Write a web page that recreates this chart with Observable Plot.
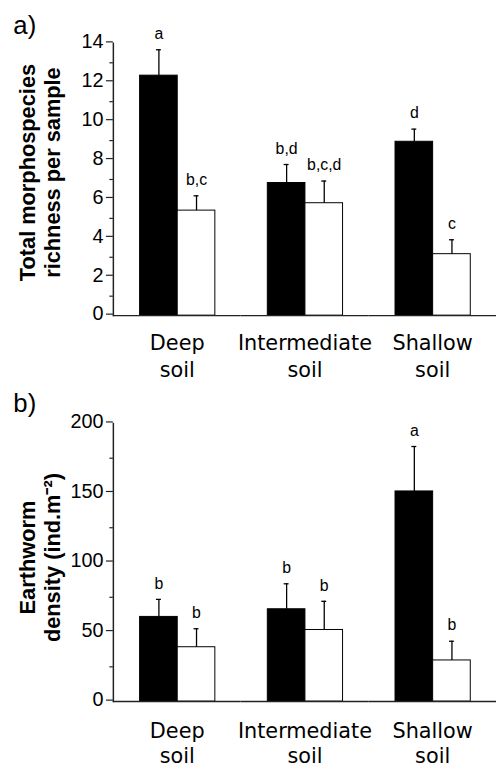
<!DOCTYPE html>
<html>
<head>
<meta charset="utf-8">
<script src="https://cdn.jsdelivr.net/npm/d3@7"></script>
<script src="https://cdn.jsdelivr.net/npm/@observablehq/plot@0.6"></script>
<style>
  html, body { margin: 0; padding: 0; background: #fff; overflow: hidden; }
  #wrap { width: 497px; overflow: hidden; }
  #wrap svg { display: block; }
</style>
</head>
<body>
<div id="wrap"></div>
<script>
// ---- data ----
const soils = ["Deep soil", "Intermediate soil", "Shallow soil"];
const soilLabels = ["Deep\nsoil", "Intermediate\nsoil", "Shallow\nsoil"];
const treatments = ["T1", "T2"];
const treatmentFills = ["black", "white"];

// panel a) total morphospecies richness per sample
const richnessT1 = [12.34, 6.82, 8.94];
const richnessT2 = [5.40, 5.78, 3.16];
const richnessErrT1 = [1.33, 0.95, 0.65];
const richnessErrT2 = [0.76, 1.14, 0.74];
const richnessLettersT1 = ["a", "b,d", "d"];
const richnessLettersT2 = ["b,c", "b,c,d", "c"];
const richnessTicks = [0, 2, 4, 6, 8, 10, 12, 14];
const richnessMinor = [1, 3, 5, 7, 9, 11, 13];

// panel b) earthworm density
const densityT1 = [60.9, 66.4, 151.1];
const densityT2 = [39.1, 51.5, 29.6];
const densityErrT1 = [12.6, 18.3, 32.3];
const densityErrT2 = [13.3, 20.6, 13.8];
const densityLettersT1 = ["b", "b", "a"];
const densityLettersT2 = ["b", "b", "b"];
const densityTicks = [0, 50, 100, 150, 200];
const densityMinor = [25, 75, 125, 175];

function rows(m1, m2, e1, e2, l1, l2) {
  const out = [];
  soils.forEach((s, i) => {
    out.push({soil: s, trt: treatments[0], mean: m1[i], top: m1[i] + e1[i], letter: l1[i]});
    out.push({soil: s, trt: treatments[1], mean: m2[i], top: m2[i] + e2[i], letter: l2[i]});
  });
  return out;
}

function panel(o) {
  const data = o.data;
  return Plot.plot({
    width: 502,
    height: o.height,
    marginLeft: 113,
    marginRight: 0,
    marginTop: o.marginTop,
    marginBottom: o.marginBottom,
    style: {background: "white", color: "black", overflow: "visible"},
    fx: {domain: soils, padding: 0},
    x: {domain: treatments, paddingInner: 0, paddingOuter: 0.66, axis: null},
    y: {domain: o.yDomain},
    color: {domain: treatments, range: treatmentFills},
    marks: [
      Plot.barY(data, {fx: "soil", x: "trt", y: "mean", fill: "trt", stroke: "black", strokeWidth: 1}),
      Plot.ruleX(data, {fx: "soil", x: "trt", y1: "mean", y2: "top", stroke: "black", strokeWidth: 1.3}),
      Plot.tickY(data, {fx: "soil", x: "trt", y: "top", stroke: "black", strokeWidth: 1.3, insetLeft: 16.5, insetRight: 16.5}),
      Plot.text(data, {fx: "soil", x: "trt", y: "top", text: "letter", dy: -16, lineAnchor: "middle",
        fontSize: 16, fontFamily: "Liberation Sans, Arial, sans-serif", fill: "black"}),
      Plot.ruleY([0], {stroke: "#222", strokeWidth: 1.5}),
      Plot.frame({anchor: "left", facet: "super", stroke: "#222", strokeWidth: 1.5}),
      Plot.axisY({ticks: o.ticks, tickSize: 7, tickPadding: 3, fontSize: 20, dy: -1.5,
        fontFamily: "Liberation Sans, Arial, sans-serif", label: null, stroke: "#222", strokeWidth: 1.2}),
      Plot.axisY({ticks: o.minor, tickSize: 3.5, tickFormat: () => "", label: null, stroke: "#222", strokeWidth: 1.2}),
      Plot.axisFx({anchor: "bottom", tickSize: 0, tickPadding: o.fxPad, label: null,
        tickFormat: (d) => soilLabels[soils.indexOf(d)],
        fontSize: 21, fontFamily: "DejaVu Sans, sans-serif", lineHeight: o.fxLine}),
      Plot.text([o.title], {frameAnchor: "left", facetAnchor: "left", rotate: -90, dx: -74.5, dy: o.titleDy,
        lineAnchor: "middle", textAnchor: "middle", lineHeight: 25 / 22,
        fontSize: 22, fontWeight: "bold", fontFamily: "Liberation Sans, Arial, sans-serif", fill: "black"}),
      Plot.text([o.label], {frameAnchor: "top-left", facetAnchor: "left", dx: -101, dy: o.labelDy,
        textAnchor: "start", lineAnchor: "middle",
        fontSize: 26, fontFamily: "Liberation Sans, Arial, sans-serif", fill: "black"})
    ]
  });
}

const wrap = document.getElementById("wrap");
wrap.appendChild(panel({
  data: rows(richnessT1, richnessT2, richnessErrT1, richnessErrT2, richnessLettersT1, richnessLettersT2),
  height: 390, marginTop: 43.3, marginBottom: 71.7, yDomain: [0, 14],
  ticks: richnessTicks, minor: richnessMinor, fxPad: 16, fxLine: 1.28,
  title: "Total morphospecies\nrichness per sample", titleDy: -7,
  label: "a)", labelDy: -18
}));
wrap.appendChild(panel({
  data: rows(densityT1, densityT2, densityErrT1, densityErrT2, densityLettersT1, densityLettersT2),
  height: 388, marginTop: 37.3, marginBottom: 69.7, yDomain: [0, 200],
  ticks: densityTicks, minor: densityMinor, fxPad: 18.5, fxLine: 1.22,
  title: "Earthworm\ndensity (ind.m\u207B\u00B2)", titleDy: -5,
  label: "b)", labelDy: -20.3
}));
</script>
</body>
</html>
